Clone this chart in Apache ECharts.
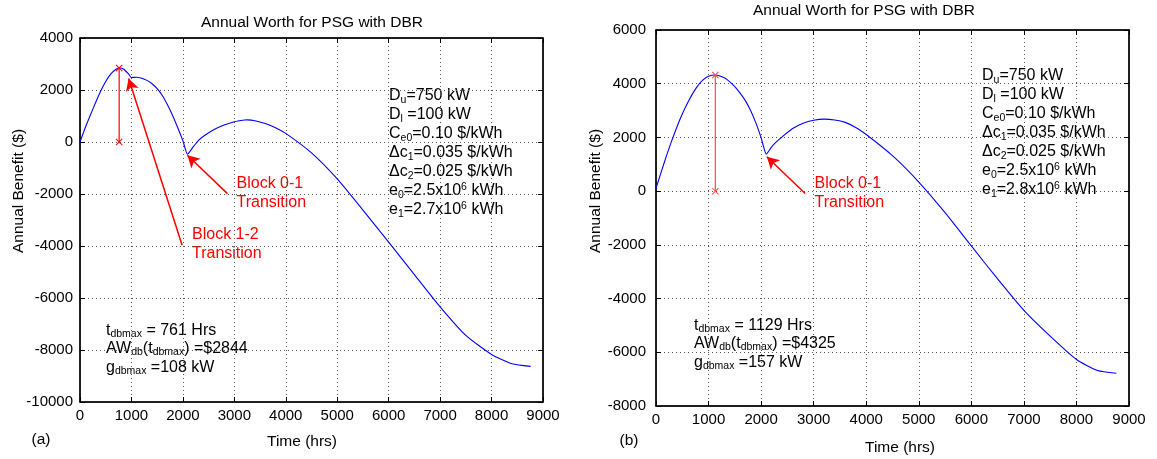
<!DOCTYPE html>
<html><head><meta charset="utf-8">
<script src="https://cdn.jsdelivr.net/npm/echarts@6/dist/echarts.min.js"></script>
<style>html,body{margin:0;padding:0;background:#fff}#c{width:1157px;height:459px}</style>
</head><body><div id="c"></div>
<script>
const FONT = '"Liberation Sans", Arial, Helvetica, sans-serif';

// ---- Data (a) ----
const timeA = [0,100,200,300,400,500,600,700,761,850,950,1000,1100,1200,1300,1400,1500,1600,1700,1800,1900,2000,2090,2200,2300,2400,2600,2800,3000,3200,3250,3400,3600,3800,4000,4500,5000,5500,6000,6500,7000,7500,8000,8400,8760];
const benefitA = [0,540,1030,1500,1950,2330,2620,2800,2844,2800,2600,2480,2490,2450,2370,2240,2050,1790,1430,1020,550,50,-470,-190,50,220,470,650,780,845,850,820,710,550,330,-420,-1420,-2620,-3850,-5100,-6340,-7440,-8170,-8530,-8630];
// ---- Data (b) ----
const timeB = [0,100,200,300,400,500,600,700,800,900,1000,1129,1200,1300,1400,1500,1600,1700,1800,1900,2000,2100,2200,2300,2400,2600,2800,3000,3200,3400,3600,3800,4000,4500,5000,5500,6000,6500,7000,7500,8000,8400,8760];
const benefitB = [100,720,1320,1880,2400,2870,3280,3640,3940,4150,4280,4325,4300,4220,4080,3890,3650,3370,3000,2540,1990,1380,1650,1850,2020,2330,2530,2640,2680,2650,2560,2370,2110,1320,340,-800,-2040,-3270,-4440,-5400,-6270,-6680,-6780];

// peak markers [time, annual worth]
const peakA = [761, 2844];
const peakB = [1129, 4325];
// arrows: [tailX, tailY, tipX, tipY] in data units
const arrowA12 = [1985, -3970, 945, 2440];
const arrowA01 = [2866, -1985, 2088, -512];
const arrowB01 = [2838, -86, 2109, 1282];

// axis ranges / ticks
const xRange = [0, 9000, 1000];
const yRangeA = [-10000, 4000, 2000];
const yRangeB = [-8000, 6000, 2000];

const titleText = 'Annual Worth for PSG with DBR';
const yName = 'Annual Benefit ($)';
const xName = 'Time (hrs)';

const zip = (a, b) => a.map((v, i) => [v, b[i]]);
const X_SYM = 'path://M0,1L1,0L5,4L9,0L10,1L6,5L10,9L9,10L5,6L1,10L0,9L4,5Z';
const plain = v => String(v);

const gridsPx = [
  {left: 80, top: 38, width: 463, height: 364},
  {left: 656, top: 30, width: 473, height: 376}
];

function xAx(gi, pos) {
  const main = pos === 'bottom';
  return {
    type: 'value', gridIndex: gi, position: pos, min: xRange[0], max: xRange[1], interval: xRange[2],
    axisLine: {show: true, onZero: false, lineStyle: {color: '#000', width: 1.5}},
    axisTick: {show: true, inside: true, length: 5, lineStyle: {color: '#000', width: 1}},
    axisLabel: {show: main, color: '#000', fontSize: 15, fontFamily: FONT, margin: 6, formatter: plain},
    splitLine: {show: main, lineStyle: {color: '#555', width: 1, type: [1, 3]}}
  };
}
function yAx(gi, pos, r, margin) {
  const main = pos === 'left';
  return {
    type: 'value', gridIndex: gi, position: pos, min: r[0], max: r[1], interval: r[2],
    axisLine: {show: true, onZero: false, lineStyle: {color: '#000', width: 1.5}},
    axisTick: {show: true, inside: true, length: 5, lineStyle: {color: '#000', width: 1}},
    axisLabel: {show: main, color: '#000', fontSize: 15, fontFamily: FONT, margin: margin, formatter: plain},
    splitLine: {show: main, lineStyle: {color: '#555', width: 1, type: [1, 3]}}
  };
}

function arrowSeries(xi, yi, a) {
  return {
    type: 'line', xAxisIndex: xi, yAxisIndex: yi, data: [], silent: true,
    markLine: {
      silent: true, animation: false,
      symbol: ['none', 'arrow'], symbolSize: [10, 12],
      label: {show: false},
      lineStyle: {color: '#ff0000', width: 1.5, type: 'solid'},
      data: [[{coord: [a[0], a[1]]}, {coord: [a[2], a[3]]}]]
    }
  };
}
function peakSeries(xi, yi, p, color) {
  return {
    type: 'line', xAxisIndex: xi, yAxisIndex: yi, silent: true,
    data: [[p[0], 0], [p[0], p[1]]],
    symbol: X_SYM, symbolSize: 7, showSymbol: true,
    lineStyle: {color: color, width: 1.2},
    itemStyle: {color: color}
  };
}
function curveSeries(xi, yi, t, v) {
  return {type: 'line', xAxisIndex: xi, yAxisIndex: yi, data: zip(t, v), showSymbol: false, symbol: 'none',
    smooth: 0.2, lineStyle: {color: '#0000ff', width: 1.1}, silent: true};
}

const subRich = {
  m: {fontSize: 16, lineHeight: 19, fontFamily: FONT, color: '#000'},
  s: {fontSize: 10.5, lineHeight: 11, verticalAlign: 'bottom', fontFamily: FONT, color: '#000'},
  p: {fontSize: 10.5, lineHeight: 11, verticalAlign: 'top', fontFamily: FONT, color: '#000'}
};
const subRich2 = {
  m: {fontSize: 16, lineHeight: 18.5, fontFamily: FONT, color: '#000'},
  s: {fontSize: 10.5, lineHeight: 11, verticalAlign: 'bottom', fontFamily: FONT, color: '#000'}
};

function paramText(e1) {
  return [
    '{m|D}{s|u}{m|=750 kW}',
    '{m|D}{s|l}{m| =100 kW}',
    '{m|C}{s|e0}{m|=0.10 $/kWh}',
    '{m|\u0394c}{s|1}{m|=0.035 $/kWh}',
    '{m|\u0394c}{s|2}{m|=0.025 $/kWh}',
    '{m|e}{s|0}{m|=2.5x10}{p|6}{m| kWh}',
    '{m|e}{s|1}{m|=' + e1 + 'x10}{p|6}{m| kWh}'
  ].join('\n');
}
function resultText(t, aw, g) {
  return [
    '{m|t}{s|dbmax}{m| = ' + t + ' Hrs}',
    '{m|AW}{s|db}{m|(t}{s|dbmax}{m|) =$' + aw + '}',
    '{m|g}{s|dbmax}{m| =' + g + ' kW}'
  ].join('\n');
}

function txt(text, x, y, opts) {
  return {
    type: 'text', silent: true,
    style: Object.assign({text: text, x: x, y: y, fill: '#000', font: '15.5px ' + FONT,
      align: 'center', verticalAlign: 'middle'}, opts || {})
  };
}

const chart = echarts.init(document.getElementById('c'), null, {renderer: 'canvas'});
chart.setOption({
  animation: false,
  backgroundColor: '#fff',
  grid: gridsPx.map(g => Object.assign({show: true, borderColor: '#000', borderWidth: 1, backgroundColor: 'transparent'}, g)),
  xAxis: [xAx(0, 'bottom'), xAx(0, 'top'), xAx(1, 'bottom'), xAx(1, 'top')],
  yAxis: [yAx(0, 'left', yRangeA, 7), yAx(0, 'right', yRangeA, 7), yAx(1, 'left', yRangeB, 10), yAx(1, 'right', yRangeB, 10)],
  series: [
    curveSeries(0, 0, timeA, benefitA),
    curveSeries(2, 2, timeB, benefitB),
    peakSeries(0, 0, peakA, '#ff0000'),
    peakSeries(2, 2, peakB, '#ff4a4a'),
    arrowSeries(0, 0, arrowA12),
    arrowSeries(0, 0, arrowA01),
    arrowSeries(2, 2, arrowB01)
  ],
  graphic: [
    txt(titleText, 312, 23),
    txt(titleText, 864, 11),
    txt(xName, 302, 442),
    txt(xName, 900, 448),
    txt('(a)', 41, 440),
    txt('(b)', 629, 441),
    Object.assign(txt(yName, 0, 0), {x: 18.5, y: 191, rotation: Math.PI / 2}),
    Object.assign(txt(yName, 0, 0), {x: 596, y: 191, rotation: Math.PI / 2}),
    {type: 'text', silent: true, style: {text: paramText('2.7'), x: 389, y: 86.5, rich: subRich, align: 'left', verticalAlign: 'top', fill: '#000', font: '16px ' + FONT}},
    {type: 'text', silent: true, style: {text: paramText('2.8'), x: 982, y: 66.5, rich: subRich, align: 'left', verticalAlign: 'top', fill: '#000', font: '16px ' + FONT}},
    {type: 'text', silent: true, style: {text: resultText('761', '2844', '108'), x: 106, y: 321, rich: subRich2, align: 'left', verticalAlign: 'top', fill: '#000', font: '16px ' + FONT}},
    {type: 'text', silent: true, style: {text: resultText('1129', '4325', '157'), x: 694, y: 316, rich: subRich2, align: 'left', verticalAlign: 'top', fill: '#000', font: '16px ' + FONT}},
    txt('Block 1-2\nTransition', 192, 225.5, {fill: '#ff0000', align: 'left', verticalAlign: 'top', font: '16px ' + FONT, lineHeight: 19}),
    txt('Block 0-1\nTransition', 236.5, 174, {fill: '#ff0000', align: 'left', verticalAlign: 'top', font: '16px ' + FONT, lineHeight: 19}),
    txt('Block 0-1\nTransition', 814.5, 174, {fill: '#ff0000', align: 'left', verticalAlign: 'top', font: '16px ' + FONT, lineHeight: 19})
  ]
});
</script></body></html>
